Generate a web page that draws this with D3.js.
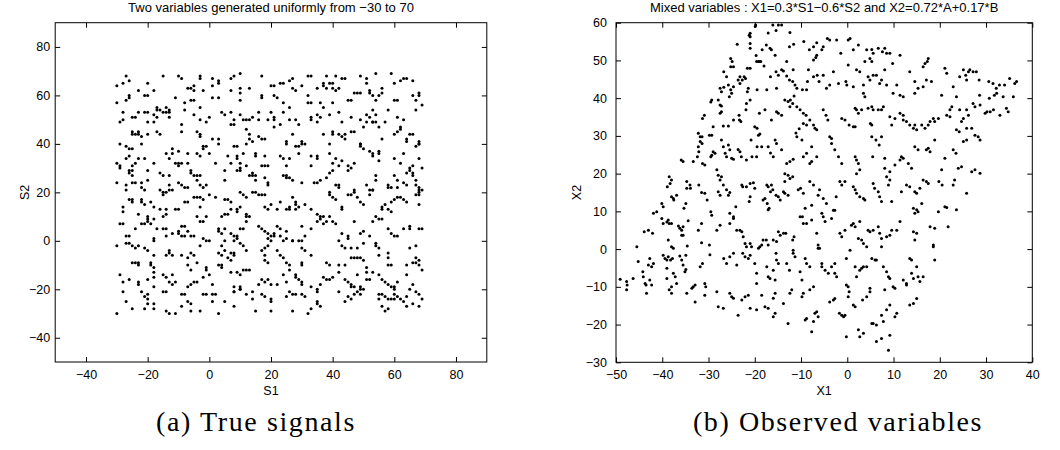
<!DOCTYPE html>
<html>
<head>
<meta charset="utf-8">
<title>ICA scatter</title>
<script src="https://d3js.org/d3.v7.min.js"></script>
<style>
  body { margin: 0; background: #fff; }
  .tick text { font-family: "Liberation Sans", Arial, sans-serif; font-size: 12.5px; fill: #000; }
  .tick line { stroke: #000; }
</style>
</head>
<body>
<div id="chart"></div>
<script>

// (S1, S2) true signals
const trueSignals = [
 [-30,64],[-30,57],[-27,68],[-28,65],[-26,66],[-26,60],[-26,59],[-27,58],[-23,62],[-21,60],[-20,60],[-20,65],[-18,62],[-15,68],[-10,68],[-9,67],[-11,59],[-8,57],[-7,63],[-6,63],[-5,64],[-5,62],[-3,68],[-3,67],[-2,62],[-6,58],[-5,58],[1,67],[1,64],[3,66],[3,65],[3,59],[1,59],[7,67],[8,68],[10,69],[7,62],[10,63],[10,61],[10,58],[13,63],[17,68],[17,60],[17,59],[20,64],[21,64],[21,60],[22,59],[23,65],[24,65],[24,57],[26,66],[27,67],[27,63],[28,62],[30,64],[32,68],[33,68],[32,60],[33,57],[35,63],[36,57],[37,64],[37,65],[38,68],[39,65],[40,65],[38,63],[40,63],[41,68],[41,62],[42,63],[43,67],[44,67],[45,58],[46,58],[47,61],[48,61],[49,68],[49,61],[51,67],[51,65],[52,62],[52,61],[53,60],[54,58],[55,60],[54,69],[56,63],[56,61],[59,69],[60,65],[61,58],[60,58],[62,66],[63,67],[64,67],[66,66],[66,60],[67,58],[68,61],[68,60],[69,56],
 [-28,53],[-25,51],[-24,51],[-23,53],[-21,53],[-20,53],[-18,52],[-17,54],[-17,55],[-16,54],[-15,53],[-14,53],[-14,55],[-13,53],[-13,54],[-13,51],[-8,54],[-5,52],[-3,55],[-3,50],[0,51],[4,53],[5,52],[7,53],[10,52],[11,50],[12,50],[13,50],[14,51],[16,53],[16,50],[19,50],[20,53],[21,51],[21,50],[24,53],[26,50],[26,55],[28,50],[29,48],[32,57],[35,52],[36,51],[37,55],[39,52],[40,57],[42,53],[43,49],[46,51],[51,52],[51,49],[52,51],[53,54],[53,49],[54,49],[54,52],[58,54],[61,51],[63,50],[67,54],[57,49],
 [-29,49],[-28,50],[-25,45],[-25,44],[-24,44],[-23,45],[-23,44],[-22,43],[-22,40],[-29,40],[-27,39],[-26,38],[-25,38],[-20,44],[-20,49],[-18,49],[-17,51],[-17,45],[-16,44],[-9,48],[-9,45],[-4,45],[-3,43],[-3,44],[-1,49],[1,42],[3,42],[3,40],[7,48],[8,48],[8,50],[12,46],[13,44],[13,42],[12,40],[14,41],[16,43],[17,42],[18,42],[21,47],[23,48],[25,40],[25,41],[27,44],[30,41],[30,40],[33,51],[33,50],[35,49],[37,44],[39,40],[40,44],[40,45],[42,44],[43,43],[44,42],[44,44],[46,45],[47,45],[49,50],[50,47],[49,40],[53,49],[55,47],[56,42],[60,44],[61,45],[62,47],[62,46],[64,42],[64,41],[65,44],[66,44],[68,41],[68,40],
 [-30,32],[-29,31],[-29,30],[-27,34],[-26,35],[-25,29],[-25,31],[-24,32],[-23,34],[-21,34],[-20,29],[-18,32],[-14,36],[-13,34],[-12,36],[-10,32],[-10,31],[-9,32],[-12,38],[-10,37],[-11,32],[-7,36],[-7,32],[-4,36],[-3,35],[-2,39],[-2,38],[-1,39],[0,36],[2,32],[6,35],[7,32],[9,35],[9,34],[10,32],[11,36],[8,39],[9,39],[12,31],[15,35],[15,36],[17,31],[18,31],[19,31],[18,35],[23,35],[24,34],[25,31],[26,34],[28,39],[29,39],[29,36],[31,40],[33,35],[33,31],[35,35],[35,34],[39,36],[40,32],[41,34],[42,31],[43,33],[45,31],[46,30],[47,32],[45,29],[49,39],[49,40],[50,38],[52,37],[53,36],[53,35],[55,36],[55,33],[55,37],[60,34],[62,32],[63,36],[65,29],[67,39],[68,40],[68,34],[69,30],[66,31],[65,30],[64,28],
 [-30,24],[-26,29],[-26,28],[-25,27],[-25,24],[-24,24],[-22,24],[-22,22],[-21,21],[-20,25],[-16,28],[-15,27],[-13,27],[-13,23],[-13,21],[-12,21],[-10,24],[-9,23],[-8,22],[-7,22],[-6,28],[-6,29],[-5,27],[-4,27],[-4,25],[-3,27],[-3,23],[-2,22],[-1,23],[0,19],[5,29],[5,25],[10,30],[10,29],[9,29],[13,27],[14,28],[14,27],[15,27],[15,25],[18,26],[19,24],[19,23],[24,27],[25,27],[25,26],[26,26],[27,25],[30,24],[34,24],[35,24],[36,25],[38,26],[39,28],[40,29],[42,23],[41,23],[51,23],[52,21],[53,21],[54,25],[54,27],[58,23],[58,22],[59,22],[60,27],[61,22],[61,25],[63,24],[64,23],[66,27],[66,28],[67,25],[67,23],[68,22],[68,21],[68,20],[69,21],[-27,23],[-27,21],
 [-26,17],[-25,16],[-25,17],[-28,14],[-28,12],[-22,16],[-21,15],[-22,17],[-19,16],[-18,14],[-23,11],[-20,10],[-20,9],[-16,21],[-15,20],[-15,19],[-14,20],[-16,13],[-14,13],[-14,11],[-11,13],[-10,13],[-8,16],[-7,16],[-5,18],[-4,18],[-3,18],[-3,14],[-2,17],[2,18],[5,17],[6,17],[7,16],[4,10],[5,11],[6,11],[7,13],[9,13],[9,12],[10,14],[12,11],[12,10],[10,20],[11,19],[12,18],[14,20],[15,20],[16,19],[17,19],[18,19],[18,14],[19,13],[20,15],[22,13],[23,16],[25,13],[26,14],[26,13],[28,15],[28,13],[29,14],[27,18],[28,16],[31,15],[33,13],[35,11],[36,10],[39,20],[39,19],[40,18],[41,17],[42,22],[43,14],[43,13],[45,19],[46,19],[47,20],[47,21],[48,18],[49,16],[50,15],[52,19],[53,21],[56,14],[56,13],[57,15],[58,13],[59,12],[59,16],[60,17],[61,18],[62,18],[63,17],[64,16],[67,19],[68,19],[68,15],
 [-29,7],[-28,7],[-27,2],[-26,2],[-27,-1],[-25,-2],[-24,5],[-22,7],[-21,7],[-20,8],[-19,7],[-18,9],[-17,5],[-15,5],[-14,5],[-14,2],[-15,10],[-12,3],[-10,4],[-10,3],[-9,6],[-9,2],[-8,2],[-8,6],[-7,4],[-6,2],[-5,2],[-4,10],[-3,8],[-2,8],[-1,10],[3,5],[3,4],[4,3],[5,5],[5,0],[7,3],[8,2],[9,2],[10,5],[11,5],[13,10],[12,8],[16,6],[17,5],[18,4],[19,3],[20,2],[21,3],[21,2],[22,6],[23,5],[25,1],[25,4],[27,0],[30,6],[30,0],[31,2],[33,5],[35,8],[36,9],[37,7],[38,8],[39,10],[40,8],[41,7],[37,10],[43,3],[45,2],[47,8],[49,3],[50,4],[52,2],[53,8],[54,10],[55,9],[56,9],[58,5],[59,3],[60,2],[61,2],[63,5],[65,6],[65,5],[67,-2],[68,5],[69,5],
 [-30,-2],[-26,-1],[-24,-3],[-23,-2],[-21,-3],[-20,-4],[-25,-9],[-24,-9],[-23,-9],[-23,-10],[-18,0],[-18,1],[-18,-6],[-14,-6],[-13,-4],[-13,-5],[-12,-6],[-9,-6],[-7,-7],[-6,-5],[-5,-6],[-4,-9],[-3,-2],[-2,1],[-1,0],[0,0],[4,-2],[3,-5],[4,-6],[5,-4],[6,-7],[7,-8],[7,-5],[8,-5],[8,-6],[8,0],[9,1],[10,-1],[11,-2],[12,-4],[17,-4],[18,-6],[18,-8],[19,-9],[18,-3],[19,-2],[19,1],[20,0],[22,-4],[23,-6],[24,-7],[23,2],[24,0],[25,-9],[26,-10],[27,0],[29,0],[30,-3],[31,-4],[30,-9],[30,-10],[33,-6],[38,-9],[39,-10],[42,0],[43,-2],[44,-3],[45,1],[46,-3],[47,-7],[46,-7],[48,-7],[49,-7],[50,-8],[48,-3],[50,-1],[42,-10],[44,-10],[51,-11],[51,-13],[53,-13],[54,-1],[54,-2],[55,-3],[55,-6],[58,-7],[58,-5],[59,-10],[58,-10],[64,-10],[65,-3],[67,-7],[67,-9],[68,-8],[68,-10],[69,-12],[66,-9],
 [-29,-14],[-28,-17],[-26,-16],[-23,-17],[-23,-18],[-22,-21],[-20,-16],[-18,-15],[-18,-13],[-18,-11],[-19,-10],[-19,-9],[-18,-19],[-15,-14],[-14,-15],[-13,-17],[-14,-21],[-12,-14],[-12,-18],[-11,-17],[-7,-10],[-6,-12],[-5,-17],[-4,-17],[-7,-19],[-6,-18],[-2,-15],[-1,-11],[-1,-12],[0,-14],[1,-18],[4,-10],[3,-10],[4,-11],[7,-13],[9,-13],[10,-14],[11,-12],[12,-12],[13,-12],[8,-19],[8,-21],[10,-19],[10,-20],[16,-18],[17,-16],[18,-17],[19,-16],[20,-18],[22,-18],[24,-14],[25,-17],[26,-12],[28,-14],[28,-15],[29,-16],[30,-17],[30,-18],[33,-19],[35,-20],[36,-18],[37,-15],[38,-16],[39,-16],[40,-15],[42,-13],[44,-16],[45,-17],[46,-18],[46,-19],[47,-19],[48,-14],[49,-19],[49,-20],[51,-16],[52,-16],[55,-14],[56,-16],[57,-17],[58,-18],[59,-19],[60,-20],[60,-19],[61,-17],[64,-14],[65,-20],[66,-18],
 [-30,-30],[-28,-21],[-27,-25],[-25,-28],[-21,-23],[-20,-24],[-20,-22],[-18,-26],[-21,-28],[-20,-26],[-18,-28],[-15,-21],[-14,-29],[-13,-30],[-11,-30],[-9,-22],[-8,-22],[-9,-27],[-7,-25],[-6,-26],[-6,-29],[-3,-29],[-2,-22],[-1,-22],[1,-22],[2,-22],[1,-25],[3,-30],[5,-25],[8,-21],[8,-27],[10,-20],[12,-22],[14,-21],[14,-24],[15,-29],[17,-22],[18,-23],[20,-24],[20,-25],[20,-29],[25,-23],[26,-21],[27,-22],[28,-22],[27,-29],[30,-22],[31,-23],[32,-30],[33,-28],[35,-21],[35,-25],[35,-26],[36,-27],[42,-21],[44,-25],[45,-23],[46,-24],[47,-22],[48,-21],[49,-22],[50,-20],[55,-22],[55,-24],[56,-27],[56,-22],[57,-23],[58,-24],[59,-24],[60,-24],[61,-23],[62,-24],[60,-22],[58,-28],[57,-29],[63,-25],[64,-27],[64,-23],[66,-26],[68,-27],[69,-24],[67,-21],[68,-22]
];

// (X1, X2) observed mixtures
const observed = [
 [-19.8,59.4],[-19.9,59],[-21,57.2],[-21.2,56.7],[-21,56.3],[-21,54.5],[-21,53.2],[-17.1,57.3],[-16.1,59.4],[-15.4,57.9],[-14.9,59.4],[-14.2,59.4],[-12.4,57.4],[-23.8,54.3],[-19.7,51.3],[-19.2,49.7],[-18.7,49.7],[-18.4,52.8],[-17.5,54.1],[-16.7,53.2],[-16.4,52.8],[-15.6,51.4],[-25.2,50.5],[-24.9,49.7],[-12.5,53.6],[-11.6,54.3],[-9.4,55],[-8.2,52.8],[-7.3,53.6],[-6.6,54.7],[-5.5,52.8],[-5.2,53.6],[-4.3,55.8],[-3.8,55.4],[-2.3,55.4],[-1.4,51.9],[0.2,55.4],[0.6,55.8],[1.3,52.8],[2.4,54.1],[4.2,52.8],[5.3,52.9],[5.6,51.9],[6.7,53.2],[7.6,52.3],[8.1,53.2],[8.5,51.9],[9.2,51.9],[9.8,49.2],[11.4,51.4],[4.9,50.5],[5.3,49.7],[3.8,49.7],[17.5,50.5],[17.3,49.7],
 [-26.7,47],[-26.1,45.7],[-25.2,48.3],[-24.6,48.3],[-23.2,45.7],[-22.7,44.8],[-22.3,45.7],[-22,45.2],[-21.6,47.9],[-21,47.9],[-19.6,49.7],[-18.9,49.7],[-18,48.5],[-16.6,45.7],[-15.4,47],[-14.9,46.1],[-14.2,47.5],[-13.1,49.7],[-11.7,47.5],[-13.8,47.2],[-27.5,42.6],[-27.2,41.7],[-26.7,42.9],[-25.7,43.5],[-25.2,42.2],[-24.6,43],[-25,41.3],[-25.5,40.4],[-23.6,44.8],[-23.2,43.9],[-21.4,42.6],[-21.6,41.7],[-19.5,42.2],[-17.4,42.2],[-15.3,42.6],[-13.1,45.9],[-12.5,44.8],[-11.8,44.4],[-11.3,43.5],[-10.9,42.6],[-9.7,42.2],[-8.8,42.2],[-8.6,44.4],[-8.4,47.5],[-7.3,45.7],[-6.5,46.1],[-6.1,44.4],[-5.2,46.1],[-7.3,50.1],[-6.8,50.8],[-6.6,51.4],[-4.5,42.6],[-3.8,43.5],[-3,47],[-1.9,43.9],[-0.3,44.4],[-0.1,43.5],[0.2,48.8],[1.3,43],[2,47.5],[2.7,47],[3.5,43.5],[3.5,41.3],[3.8,40.4],[4.5,45.7],[4.9,44.8],[5.6,46.1],[6.3,46.1],[7.4,44.8],[7,43.9],[8.1,47.5],[8.5,43.5],[9.9,41.3],[10.7,43.5],[11.4,40.8],[12.1,40.4],[13.5,47],[14.6,44.4],[14.6,41.3],[15.3,42.6],[16.4,48.3],[16.8,49.2],[17.1,44.8],[18.2,44.4],[16.4,43],[20.4,40.8],[21.1,47.9],[21.5,46.6],[22.9,43],[23.6,40.4],[24.3,45.7],[25.1,47.5],[25.6,46.1],[25.8,44.8],[26.2,47],[26.5,47.5],[27.2,47],[27.9,47],[28.5,44.8],[30.6,44.4],[31.5,43.9],[32.2,42.6],[32.9,43.5],[34,43.5],[35.1,45.2],[36.2,43.9],[36.6,44.4],[28.6,40.8],[30.7,40],[31.8,40.8],[32.3,41.3],[33.7,40.4],[35.9,40.4],
 [-29.5,39],[-29.3,39.5],[-27.9,39.5],[-27.5,38.2],[-27.2,37.9],[-27.5,36],[-27.2,36.4],[-31.3,34.6],[-30.9,35.5],[-32.2,30.7],[-31.8,29.8],[-31.4,29.8],[-29.8,30.2],[-29.3,30.2],[-29,32.4],[-26.8,32.6],[-25.7,32.6],[-24.6,34.2],[-23.4,35.5],[-23.3,34.2],[-23,33.8],[-21.9,36.9],[-21.8,38.6],[-21,39.5],[-20,32.4],[-19.5,32],[-19.2,30.2],[-18.9,30.5],[-19,36],[-17.8,36.9],[-16.4,34.2],[-15.3,36.4],[-14.9,36],[-14.2,35.5],[-13.5,39.5],[-12.8,39.1],[-12.3,39.5],[-11.5,40.6],[-12.4,37.7],[-11.8,38.6],[-10.9,37.7],[-10.2,36.9],[-9.5,36],[-8.9,35.5],[-11.1,30.8],[-10.4,31.9],[-9.5,33.3],[-8.8,32.9],[-8.1,34.2],[-7.3,32.9],[-6.6,31.6],[-7,32],[-5.2,36.9],[-4.6,35.5],[-4.2,34.2],[-3.8,29.8],[-3.4,29.3],[-1.2,34.6],[-0.5,34.2],[0.4,32.9],[1.3,32.4],[1.7,32.4],[1.7,37.3],[2,36.9],[2.4,36],[3.1,36.9],[4.5,37.3],[5.3,37.7],[5.6,36.9],[5,33.3],[5.3,32.9],[6.7,36.9],[7.4,36.9],[7.8,37.7],[9.2,35.1],[9.6,32.9],[10.3,34.6],[12.1,34.2],[12.8,33.8],[13.5,32.9],[14.3,32],[14.6,32.9],[15,31.6],[16.1,32.9],[16.8,32],[17.5,32.9],[17.9,33.8],[18.6,34.6],[18.9,33.8],[19.7,34.6],[11.4,36],[12.1,35.5],[22.6,37.7],[22.2,36.9],[21.5,35.5],[22.2,35.1],[24.3,36.9],[24.7,33.8],[25.1,34.6],[25.8,36.9],[26.2,35.5],[27.2,38.6],[27.6,37.7],[23.6,31.6],[24.2,31.1],[25.8,32],[26.9,32],[27.6,30.2],[28.3,29.8],[28.7,28.9],[29.8,36],[30.2,36.4],[30.9,36.4],[31.6,36.9],[33,35.5],[34.4,37.3],[34.8,36.4],[28.7,38.2],
 [-35.9,23.6],[-35.5,23.2],[-33.3,23.2],[-32.4,24.5],[-32.1,25.8],[-31.3,22.7],[-30.8,22.3],[-31.8,28.5],[-31.4,28],[-32.2,27.1],[-29.5,24.5],[-29.3,24.9],[-29,25.8],[-28.6,25.4],[-28.2,21],[-27.9,19.6],[-27.5,18.3],[-27.2,19.2],[-27.2,28.9],[-26.8,27.1],[-26.4,25.4],[-26.1,24.5],[-25.7,27.6],[-25.4,26.3],[-25,24.1],[-24.6,23.8],[-23.6,26.4],[-23.2,25.8],[-22.9,24.5],[-21.8,23.6],[-20.8,28.9],[-20.6,24.5],[-19.6,24.5],[-19.5,27.1],[-18.5,27.1],[-17.1,27.1],[-16.6,25.5],[-16,24.5],[-15.6,28.9],[-15.3,28],[-14.2,26.3],[-13.1,22.7],[-12.4,23.2],[-11.7,23.8],[-13.5,20],[-12.8,19.6],[-10.9,29.8],[-9.5,24.5],[-8.8,25.4],[-8.1,22.7],[-7.7,23.2],[-6.6,24.5],[-9.8,28.9],[-7.7,27.1],[-3.4,28],[-2.7,26.3],[-1.9,24.5],[-1.2,22.7],[1.7,24.5],[2,23.6],[2.4,22.7],[2.7,21],[2,20],[5.3,29.8],[6.2,28.9],[6.9,27.6],[7.4,29.8],[8.1,21.4],[9.2,20.5],[10.3,22.3],[5.5,24.5],[8.1,24.1],[11.4,23.6],[11.7,24.5],[12.1,24.1],[13.2,22.7],[13.9,21.4],[14.6,27.1],[15.3,26.3],[17.1,26.3],[17.5,26.7],[17.9,25.8],[18.9,28.9],[20.4,21],[21.1,24.1],[22.9,26.3],[23.5,25.4],[24,21.4],[24.7,21.8],[25.1,28.5],[25.8,28.9],[27.6,21],[28.7,20.1],[26.9,20.5],
 [-38.5,19.2],[-38,18.3],[-38.3,17.4],[-38.9,16.5],[-38,13.9],[-37.6,13.4],[-40.1,12.1],[-39.8,11.2],[-41.9,9.5],[-41.2,9.9],[-36.9,14.3],[-37.5,13],[-34.7,17.9],[-34,17],[-33.9,16.1],[-34.7,16.1],[-34.9,12.1],[-35.3,10.8],[-32.1,17],[-31.5,15],[-30.8,14.8],[-30.3,13],[-29.5,9.9],[-29.3,9],[-27.9,15.2],[-27.5,14.3],[-26.8,17],[-26.1,15.7],[-25.7,14.3],[-25.4,15],[-25.4,9.5],[-24.6,8.6],[-24.1,11.2],[-22.8,17],[-22.6,16.5],[-21.8,16.5],[-21,17.4],[-20.3,17.6],[-20,16.1],[-21,13.9],[-21.2,12.6],[-18.2,13],[-17.8,13.4],[-17.3,12.1],[-16.9,10.8],[-17.1,10.4],[-16.6,15.2],[-16.1,15.7],[-15.4,14.3],[-14.9,13.9],[-14.5,13],[-17.4,17],[-17.1,16.5],[-16.4,17],[-13.8,15.2],[-13.5,14.8],[-12.8,14.3],[-13.5,17.9],[-12.4,18.7],[-11.8,19.2],[-10.6,15.7],[-10.1,16.1],[-9.5,14.8],[-9.1,10.8],[-7.7,11.6],[-6.3,14.3],[-6,15.7],[-5.2,13.4],[-4.5,12.1],[-8.1,17.9],[-7.3,17],[-2.4,13.9],[-1.6,17.9],[-1.2,17],[-0.5,17.9],[1.3,16.5],[1.7,15.7],[2,14.8],[2.7,13.9],[3.5,13.4],[3.8,13],[5.6,17.4],[5.9,16.1],[6.7,15.2],[7,13.9],[7.4,12.6],[8.5,19.2],[9.2,18.3],[8.9,17],[9.6,12.6],[11.7,15.2],[12.8,17],[13.5,16.5],[14.6,15.2],[15,14.8],[15.7,16.1],[16.4,18.3],[17.1,17.9],[17.5,17.4],[14.3,10.8],[15,10.4],[16.1,12.1],[19.8,17.9],[20.5,17],[21.1,11.2],[21.5,11],[22.9,17],[23.2,18.3],[23.6,10.4],[25.8,14.8],
 [-45.5,0.6],[-43.9,4.6],[-43,5],[-42.1,4.2],[-45.2,-3.3],[-40.1,8.1],[-39.8,6.8],[-39,7.2],[-38.7,7.7],[-38.5,6.8],[-38,6.8],[-36.5,6.1],[-36.2,5.5],[-35.8,5],[-35.5,5.9],[-35.8,3.7],[-35.5,3.7],[-38.7,2.4],[-38,0.6],[-37.6,0.2],[-34.4,7.5],[-34.6,0.8],[-34.9,-1.6],[-32.2,5],[-31.5,6.8],[-31.5,1.7],[-29.8,1.1],[-28.2,5],[-27.5,6.3],[-25.4,6.8],[-24.6,8.1],[-23.9,5],[-23.2,5],[-22.8,4.6],[-22.5,3.3],[-22.1,1.5],[-21.8,0.6],[-21,1.5],[-20.7,0.6],[-19.2,0.2],[-18.9,0.6],[-18.5,1.1],[-18.2,2.4],[-17.5,2.4],[-17.1,1.1],[-16,2.4],[-15.3,2],[-14.9,4.6],[-14.5,3.7],[-13.8,4.2],[-13.3,4.2],[-11.5,3.3],[-11.8,2.4],[-10.2,8.6],[-9.7,8.6],[-9.5,6.8],[-8.8,6.8],[-7.7,7.7],[-6.6,4.2],[-6.3,1.1],[-6,0.2],[-5.5,9.5],[-5.2,8.6],[-4.8,7.3],[-3,10.3],[-2.7,10.3],[-3.4,8.1],[-1.6,4.2],[-1.2,3.3],[-0.5,5],[0.9,6.3],[1.3,6.8],[1.7,5.9],[2.7,7.3],[2.4,2.8],[3.1,2.4],[3.5,1.5],[4.2,0.6],[4.5,5],[4.9,4.6],[5.6,5],[6.7,5.9],[7,4.2],[7.4,2.8],[7.4,0.6],[8.5,3.3],[9.2,3.7],[9.6,5],[10.7,5],[11.4,7.3],[14.6,2.4],[14.3,4.6],[15,4.2],[14.6,9.5],[15.3,9.9],[17.9,5.9],[18.9,5.5],[19.7,9.9],[18.6,1.1],[21.8,5.9],
 [-49.1,-8],[-47.7,-8.6],[-47.6,-9.5],[-46.3,-7.8],[-47.7,-10.8],[-44.2,-6],[-44.1,-7.3],[-43.7,-9.1],[-43.5,-9.5],[-43.4,-11.7],[-42.7,-8.2],[-42.3,-9.5],[-42.7,-2.5],[-43,-4.2],[-42.3,-4.7],[-41.9,-3.8],[-39.8,-1.6],[-39.4,-2.5],[-39,-2.9],[-38.7,-2],[-38.2,-2.9],[-37.8,-2.5],[-39,-5.1],[-39,-7.8],[-38,-10],[-38.5,-10.8],[-38,-11.7],[-37.6,-6.4],[-37.2,-7.3],[-36.9,-9.1],[-36.2,-1.8],[-35.8,-2.9],[-35.5,-4.2],[-35.1,-6],[-34.9,-5.4],[-33.6,-10.4],[-33.3,-10],[-32.9,-9.5],[-31.8,-4.7],[-31.3,-3.8],[-30.8,-9.1],[-30.6,-10],[-29.7,-1.5],[-26.7,-2.5],[-26.1,-3.8],[-25.4,-2],[-24.6,-1.1],[-23.9,-4.2],[-22.6,-1.1],[-22.1,-2],[-21.4,-2.5],[-21,-1.6],[-20,-3.8],[-19.6,-6.4],[-19.6,-9.1],[-17.4,-4.7],[-17.1,-7.3],[-16.7,-7.8],[-16,-5.6],[-15.6,-8.2],[-15.3,-2.9],[-14.9,-3.8],[-15.4,-1.1],[-13.1,-3.8],[-12.5,-5.6],[-11.7,-0.3],[-11.7,-1.1],[-11.3,-2],[-9.1,-2.5],[-8.8,-3.8],[-8.1,-4.7],[-10.2,-6],[-9.8,-8.2],[-6.3,0.2],[-5.5,-3.8],[-5.5,-4.7],[-4.8,-5.6],[-4.1,-6.4],[-3.4,-4.7],[-2.7,-3.8],[-2.7,-6.4],[-2.3,-7.3],[-0.2,-2.5],[0.6,-0.3],[1.7,-4.7],[2,-7.3],[2.7,-5.6],[3.1,-5.1],[3.5,-4.7],[4.2,-4.7],[5.3,-2.5],[6,-2.9],[6.3,-2.9],[7.8,-4.7],[8.5,-6],[8.9,-7.3],[9.2,-7.8],[12.1,-8.2],[12.8,-9.1],[13.9,-6.4],[14.3,-7.8],[15,-4.7],[15.3,-7.3],[15.7,-8.6],[13.5,-2.5],[13.9,-2.9],[16.4,-7.3],[18.6,0.6],[18.9,-2.9],
 [-34.7,-11.7],[-32.9,-14],[-30.8,-12.2],[-28.2,-11.3],[-27.9,-15.3],[-26.8,-15.7],[-25.4,-11.7],[-25,-12.6],[-24.6,-13],[-23.6,-17.5],[-22.8,-13.5],[-22.1,-12.6],[-21.4,-12.2],[-21,-15.7],[-19.6,-16.1],[-18.5,-12.2],[-17.8,-15.3],[-17.1,-15.7],[-16,-13],[-15.6,-11.7],[-15.6,-17],[-16,-17.9],[-13.8,-14.4],[-12.8,-19.7],[-12.4,-11.7],[-12,-10.8],[-9.8,-12.6],[-9.5,-11.7],[-9.1,-18.8],[-8.8,-18.4],[-8.1,-10.8],[-7.3,-10],[-7.3,-19.2],[-7,-17],[-6.6,-16.6],[-6.3,-17.9],[-7.7,-21.9],[-3.8,-14],[-3,-13.5],[-2.7,-13.1],[-1.7,-17],[-1.2,-17.5],[-0.8,-17.9],[-0.5,-17.5],[-0.2,-9.5],[0.2,-10],[0.4,-11.3],[0.2,-12.6],[1.3,-14.8],[1.7,-15.3],[3.3,-13.5],[4.2,-12.6],[4.9,-11.3],[4.9,-10.4],[5.3,-19.7],[5.6,-19.7],[6.3,-20.1],[7.4,-17.5],[7.8,-19.2],[8.5,-16.1],[9.2,-14.8],[9.9,-10],[10.3,-10.4],[10.7,-17],[10.3,-17.9],[8.1,-10.8],[12.8,-9.5],[13.5,-14.8],[14.3,-14.4],[15,-13.1],
 [6.3,-24.5],[7.4,-23.7],[9.2,-22.8],[8.9,-26.8],[3.5,-22.3],[2.4,-21.4],[-0.2,-23.2],[2.7,-23.2]
];

const ticksA = [-40, -20, 0, 20, 40, 60, 80];
const ticksBx = [-50, -40, -30, -20, -10, 0, 10, 20, 30, 40];
const ticksBy = [-30, -20, -10, 0, 10, 20, 30, 40, 50, 60];

const W = 1060, H = 450;
const svg = d3.select("#chart").append("svg")
    .attr("width", W)
    .attr("height", H);

function panel(opt) {
    let x = d3.scaleLinear().domain(opt.xDomain).range([opt.left, opt.right]);
    let y = d3.scaleLinear().domain(opt.yDomain).range([opt.bottom, opt.top]);
    let g = svg.append("g");

    g.append("g").selectAll("circle")
        .data(opt.data)
        .enter()
        .append("circle")
        .attr("cx", d => x(d[0]))
        .attr("cy", d => y(d[1]))
        .attr("r", 1.5)
        .attr("fill", "#000");

    // inward ticks on all four sides
    g.append("g").attr("transform", "translate(0," + opt.bottom + ")")
        .call(d3.axisBottom(x).tickValues(opt.xTicks).tickSizeInner(-5).tickSizeOuter(0).tickPadding(8))
        .call(a => a.select(".domain").remove());
    g.append("g").attr("transform", "translate(0," + opt.top + ")")
        .call(d3.axisTop(x).tickValues(opt.xTicks).tickSizeInner(-5).tickSizeOuter(0).tickFormat(""))
        .call(a => a.select(".domain").remove());
    g.append("g").attr("transform", "translate(" + opt.left + ",0)")
        .call(d3.axisLeft(y).tickValues(opt.yTicks).tickSizeInner(-5).tickSizeOuter(0).tickPadding(opt.yPad))
        .call(a => a.select(".domain").remove());
    g.append("g").attr("transform", "translate(" + opt.right + ",0)")
        .call(d3.axisRight(y).tickValues(opt.yTicks).tickSizeInner(-5).tickSizeOuter(0).tickFormat(""))
        .call(a => a.select(".domain").remove());

    g.append("rect")
        .attr("x", opt.left).attr("y", opt.top)
        .attr("width", opt.right - opt.left).attr("height", opt.bottom - opt.top)
        .attr("fill", "none").attr("stroke", "#000").attr("stroke-width", 1);

    let cx = (opt.left + opt.right) / 2;
    g.append("text")
        .attr("x", cx).attr("y", 12)
        .attr("text-anchor", "middle")
        .attr("font-family", "Liberation Sans, Arial, sans-serif")
        .attr("font-size", "13px")
        .text(opt.title);
    g.append("text")
        .attr("x", cx).attr("y", 394.5)
        .attr("text-anchor", "middle")
        .attr("font-family", "Liberation Sans, Arial, sans-serif")
        .attr("font-size", "12.5px")
        .text(opt.xLabel);
    g.append("text")
        .attr("transform", "translate(" + opt.yLabelX + "," + ((opt.top + opt.bottom) / 2) + ") rotate(-90)")
        .attr("text-anchor", "middle")
        .attr("font-family", "Liberation Sans, Arial, sans-serif")
        .attr("font-size", "12.5px")
        .text(opt.yLabel);
    g.append("text")
        .attr("x", opt.captionX).attr("y", 431)
        .attr("text-anchor", "middle")
        .attr("font-family", "Liberation Serif, Times New Roman, serif")
        .attr("font-size", "28px")
        .attr("letter-spacing", "1.6px")
        .text(opt.caption);
}

panel({
    data: trueSignals,
    xDomain: [-50, 90], yDomain: [-50, 90],
    left: 55.2, right: 486.8, top: 22.7, bottom: 362,
    xTicks: ticksA, yTicks: ticksA, yPad: 5,
    title: "Two variables generated uniformly from \u221230 to 70",
    xLabel: "S1", yLabel: "S2", yLabelX: 29,
    caption: "(a) True signals", captionX: 256
});

panel({
    data: observed,
    xDomain: [-50, 40], yDomain: [-30, 60],
    left: 616, right: 1032.3, top: 22.7, bottom: 362.3,
    xTicks: ticksBx, yTicks: ticksBy, yPad: 9,
    title: "Mixed variables : X1=0.3*S1\u22120.6*S2 and X2=0.72*A+0.17*B",
    xLabel: "X1", yLabel: "X2", yLabelX: 581,
    caption: "(b) Observed variables", captionX: 838
});

</script>
</body>
</html>
